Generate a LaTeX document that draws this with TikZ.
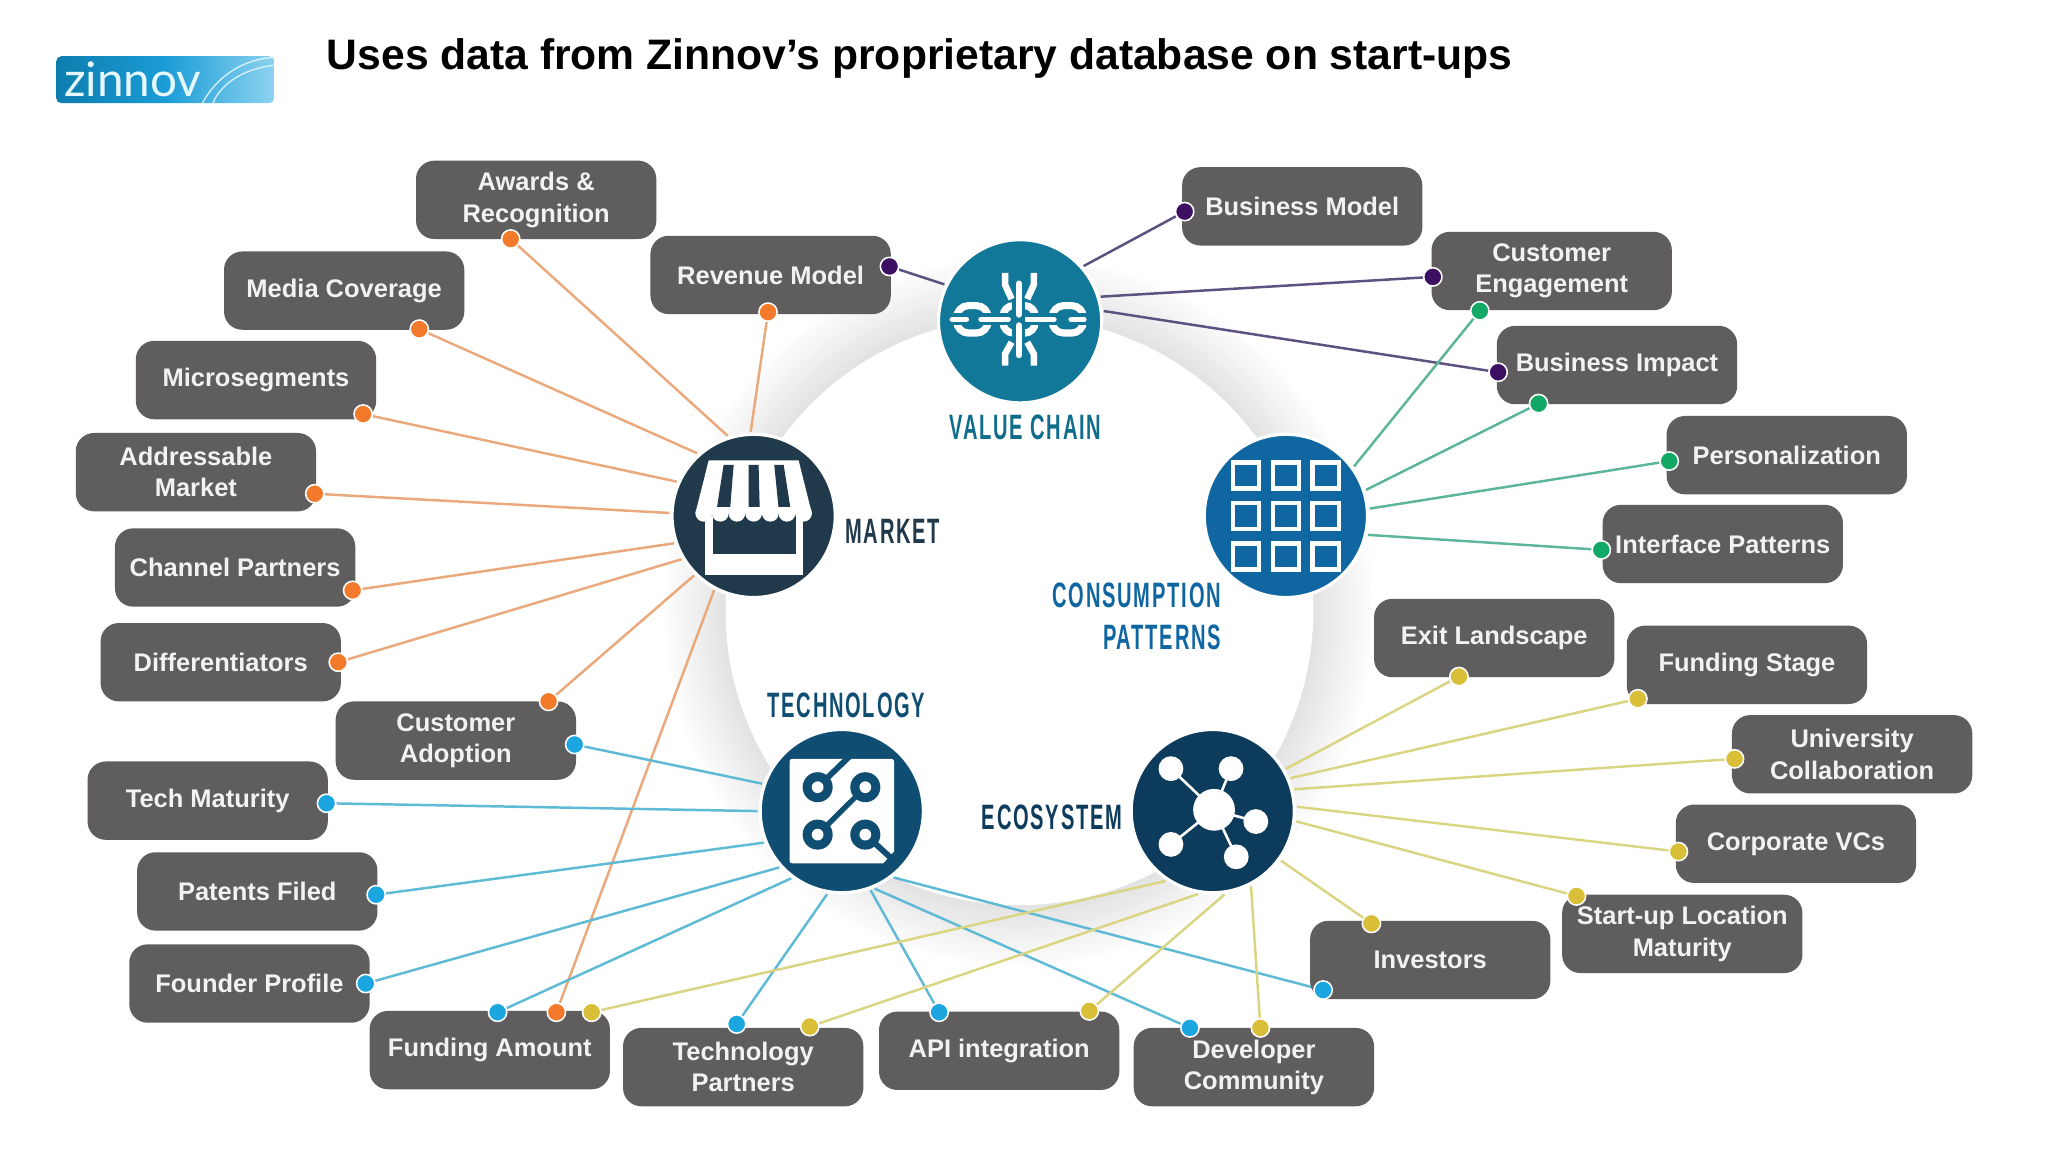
\documentclass[tikz,border=0pt]{standalone}
\usepackage{fontspec}
\setmainfont{Liberation Sans}
\newfontfamily\hubfont[FakeStretch=0.57,LetterSpace=5]{Liberation Sans}
\newfontfamily\logofont{Lato}
\usetikzlibrary{backgrounds,calc}
\definecolor{tagfill}{HTML}{5F5D5E}
\definecolor{tagtext}{HTML}{F2F2F2}
\definecolor{dotorange}{HTML}{F27A2A}
\definecolor{dotpurple}{HTML}{3C0F63}
\definecolor{dotgreen}{HTML}{12A865}
\definecolor{dotblue}{HTML}{1CA6E0}
\definecolor{dotyellow}{HTML}{D9BE38}
\definecolor{lineorange}{HTML}{EAA97C}
\definecolor{linepurple}{HTML}{5E5080}
\definecolor{linegreen}{HTML}{5DB59B}
\definecolor{lineblue}{HTML}{5FBBD5}
\definecolor{lineyellow}{HTML}{DAD583}
\definecolor{hubvalue}{HTML}{12789A}
\definecolor{hubmarket}{HTML}{213A4B}
\definecolor{hubcons}{HTML}{0F66A0}
\definecolor{hubtech}{HTML}{0F4E72}
\definecolor{hubeco}{HTML}{0C3B5B}
\definecolor{glow}{HTML}{E2E2E2}
\tikzset{
  tag/.style={rounded corners=14pt,fill=tagfill,text=tagtext,minimum width=184pt,minimum height=60pt,inner sep=0pt,align=center,font=\fontsize{19.5}{24}\selectfont\bfseries},
  dot/.style={circle,minimum size=14pt,inner sep=0pt,draw=white,line width=1.2pt},
  hub/.style={circle,minimum size=125pt,inner sep=0pt,draw=white,line width=2.5pt,outer sep=2pt},
  hublabel/.style={font=\fontsize{27}{32}\selectfont\hubfont\bfseries,inner sep=0pt},
  conn/.style={line width=1.9pt},
  iconw/.style={draw=white,line cap=round},
}
\begin{document}
\begin{tikzpicture}[x=1pt,y=-1pt]
\useasboundingbox (0,0) rectangle (1568,882);
% background ring
\begin{scope}[on background layer]
\foreach \i in {0,...,25} {
  \pgfmathtruncatemacro{\pct}{4*\i}
  \pgfmathsetmacro{\rad}{275-2*\i}
  \fill[glow!\pct!white] (780.5,468) circle (\rad);
}
\fill[white] (780.5,468) circle (225);
\end{scope}
% logo
\node[inner sep=0pt,minimum width=167pt,minimum height=36pt,rounded corners=4pt,left color=hubcons!85!cyan,right color=dotblue!50!white,middle color=dotblue!85!hubcons] (logo) at (126.5,61) {};
\node[anchor=base west,inner sep=0pt,text=white!90!cyan,font=\fontsize{36.5}{36}\selectfont\logofont] (logotext) at (49,74) {zinnov};
\draw[white!85!cyan,line width=1pt] (155,79) .. controls (165,60) and (185,45) .. (210,44);
\draw[white!85!cyan,line width=1pt] (163,79) .. controls (170,62) and (190,52) .. (210,50);
% title
\node[anchor=base west,inner sep=0pt,font=\fontsize{32.65}{36}\selectfont\bfseries] (title) at (250,53) {Uses data from Zinnov’s proprietary database on start-ups};
% tags
\node[tag] (awards) at (410.5,153) {Awards \&\\Recognition};
\node[tag] (media) at (263.5,222.5) {Media Coverage};
\node[tag] (micro) at (196,291) {Microsegments};
\node[tag] (addr) at (150,361.5) {Addressable\\Market};
\node[tag] (channel) at (180,434.5) {Channel Partners};
\node[tag] (diff) at (169,507) {Differentiators};
\node[tag] (adopt) at (349,567) {Customer\\Adoption};
\node[tag] (matur) at (159,613) {Tech Maturity};
\node[tag] (patents) at (197,682.5) {Patents Filed};
\node[tag] (founder) at (191,753) {Founder Profile};
\node[tag] (fund) at (375,804) {Funding Amount};
\node[tag] (techp) at (569,817) {Technology\\Partners};
\node[tag] (api) at (765,804.5) {API integration};
\node[tag] (dev) at (960,817) {Developer\\Community};
\node[tag] (invest) at (1095,735) {Investors};
\node[tag] (startup) at (1288,715) {Start-up Location\\Maturity};
\node[tag] (corp) at (1375,646) {Corporate VCs};
\node[tag] (univ) at (1418,577.5) {University\\Collaboration};
\node[tag] (stage) at (1337.5,509) {Funding Stage};
\node[tag] (exit) at (1144,488.5) {Exit Landscape};
\node[tag] (iface) at (1319,416.5) {Interface Patterns};
\node[tag] (person) at (1368,348.5) {Personalization};
\node[tag] (impact) at (1238,279.5) {Business Impact};
\node[tag] (engage) at (1188,207.5) {Customer\\Engagement};
\node[tag] (bmodel) at (997,158) {Business Model};
\node[tag] (revenue) at (590,210.5) {Revenue Model};
% hubs
\node[hub,fill=hubvalue] (value) at (781,246) {};
\node[hub,fill=hubmarket] (market) at (577,395) {};
\node[hub,fill=hubcons] (cons) at (984.5,395) {};
\node[hub,fill=hubtech] (tech) at (644.5,621) {};
\node[hub,fill=hubeco] (eco) at (928.5,621) {};
% hub labels
\node[hublabel,text=hubvalue!90!black] (lvalue) at (785,327) {VALUE CHAIN};
\node[hublabel,text=hubmarket,anchor=west] (lmarket) at (647,407) {MARKET};
\node[hublabel,text=hubcons,anchor=east] (lcons) at (935,456) {CONSUMPTION};
\node[hublabel,text=hubcons,anchor=east] (lpatt) at (935,488) {PATTERNS};
\node[hublabel,text=hubtech] (ltech) at (648,540) {TECHNOLOGY};
\node[hublabel,text=hubeco] (leco) at (805.5,626) {ECOSYSTEM};
% dots
\foreach \n/\p in {oawards/{391,183},orevenue/{588,239},omedia/{321,252},omicro/{278,317},oaddr/{241,378},ochannel/{270,452},odiff/{259,507},oadopt/{420,537},ofund/{426,775}}
  \node[dot,fill=dotorange] (\n) at (\p) {};
\foreach \n/\p in {prevenue/{681,204},pbmodel/{907,162},pengage/{1097,212},pimpact/{1147,285}}
  \node[dot,fill=dotpurple] (\n) at (\p) {};
\foreach \n/\p in {gengage/{1133,238},gimpact/{1178,309},gperson/{1278,353},giface/{1226,421}}
  \node[dot,fill=dotgreen] (\n) at (\p) {};
\foreach \n/\p in {badopt/{440,570},bmatur/{250,615},bpatents/{288,685},bfounder/{280,753},bfund/{381,775},btechp/{564,784},bapi/{719,775},bdev/{911,787},binvest/{1013,758}}
  \node[dot,fill=dotblue] (\n) at (\p) {};
\foreach \n/\p in {yfund/{453,775},ytechp/{620,786},yapi/{834,774},ydev/{965,787},yinvest/{1050,707},ystartup/{1207,686},ycorp/{1285,652},yuniv/{1328,581},ystage/{1254,535},yexit/{1117,518}}
  \node[dot,fill=dotyellow] (\n) at (\p) {};
% connectors
\begin{scope}[on background layer]
\foreach \d/\a in {oawards/108,orevenue/92,omedia/132,omicro/156,oaddr/178,ochannel/199,odiff/211,oadopt/225,ofund/242}
  \draw[conn,lineorange] (\d) -- (market.\a);
\foreach \d/\a in {prevenue/154,pbmodel/41,pengage/17,pimpact/7}
  \draw[conn,linepurple] (\d) -- (value.\a);
\foreach \d/\a in {gengage/36,gimpact/18,gperson/5,giface/347}
  \draw[conn,linegreen] (\d) -- (cons.\a);
\foreach \d/\a in {badopt/161,bmatur/180,bpatents/202,bfounder/222,bfund/233,btechp/260,bapi/290,bdev/293,binvest/308}
  \draw[conn,lineblue] (\d) -- (tech.\a);
\foreach \d/\a in {yfund/236,ytechp/260,yapi/278,ydev/297,yinvest/324,ystartup/353,ycorp/3,yuniv/15,ystage/23,yexit/30}
  \draw[conn,lineyellow] (\d) -- (eco.\a);
\end{scope}
% value chain icon
\begin{scope}[shift={(value.center)}]
  \draw[iconw,line width=5.5pt,rounded corners=9pt] (-48.5,-12) rectangle (-24.5,9);
  \draw[iconw,line width=5.5pt,rounded corners=9pt] (24.5,-12) rectangle (48.5,9);
  \draw[iconw,line width=5.5pt,rounded corners=8pt] (-13,-12) rectangle (11.5,9);
  \draw[hubvalue,line width=9pt] (-56,-1.5) -- (54,-1.5);
  \foreach \a/\b in {-52/-41,-30/-9,5/26,39/49}
    \draw[iconw,line width=4pt] (\a,-1.5) -- (\b,-1.5);
  \draw[hubvalue,line width=10pt] (-1,-18) -- (-1,15);
  \draw[iconw,line width=4.5pt] (-1,-29) -- (-1,-5);
  \draw[iconw,line width=4.5pt] (-1,3) -- (-1,26);
  \draw[white,line width=5pt] (-11.5,-37) -- (-11.5,-28) -- (-6.5,-17);
  \draw[white,line width=5pt] (10.5,-37) -- (10.5,-28) -- (5.5,-17);
  \draw[white,line width=5pt] (-11.5,34) -- (-11.5,25) -- (-6.5,16);
  \draw[white,line width=5pt] (10.5,34) -- (10.5,25) -- (5.5,16);
\end{scope}
% market icon
\begin{scope}[shift={(market.center)}]
  \fill[white] (-37,0) rectangle (38,45);
  \fill[hubmarket] (-31,0) rectangle (32.6,28.8);
  \fill[white] (-34.4,-42.6) -- (34.4,-42.6) -- (44.6,-2) -- (-44.6,-2) -- cycle;
  \foreach \x in {-38.2,-25.5,-12.8,0,12.8,25.5,38.2} \fill[white] (\x,-2) circle (6.4);
  \fill[hubmarket] (-23,-39) -- (-15.3,-39) -- (-17.9,-7) -- (-28,-7) -- cycle;
  \fill[hubmarket] (-3.8,-39) -- (3.8,-39) -- (4.6,-7) -- (-3.8,-7) -- cycle;
  \fill[hubmarket] (15.8,-39) -- (23,-39) -- (28,-7) -- (19,-7) -- cycle;
\end{scope}
% consumption icon
\begin{scope}[shift={(cons.center)}]
  \foreach \x in {-30.5,0,30.5} \foreach \y in {-31,0,31}
    \draw[white,line width=3.5pt] (\x-10,\y-10) rectangle (\x+10,\y+10);
\end{scope}
% technology icon
\begin{scope}[shift={(tech.center)}]
  \fill[white,rounded corners=2pt] (-40,-40) rectangle (40,40);
  \draw[hubtech,line width=4.5pt] (-18.5,-18.3) -- (6,-42);
  \draw[hubtech,line width=4.5pt] (18,18) -- (40,38);
  \fill[hubtech] (40,31) -- (41,41) -- (31,41) -- cycle;
  \draw[hubtech,line width=4pt] (-18.5,18) -- (18,-18.3);
  \foreach \p in {{-18.5,-18.3},{18,-18.3},{-18.5,18},{18,18}} {
    \fill[hubtech] (\p) circle (11.5);
    \fill[white] (\p) circle (4.5);
  }
\end{scope}
% ecosystem icon
\begin{scope}[shift={(eco.center)}]
  \foreach \p in {{-32,-32.5},{14,-32.5},{33,8},{18,35},{-32,25.5}} {
    \fill[white] (\p) circle (9.5);
    \draw[white,line width=2pt] (1,-1) -- (\p);
  }
  \fill[white] (1,-1) circle (16);
\end{scope}
\end{tikzpicture}
\end{document}
